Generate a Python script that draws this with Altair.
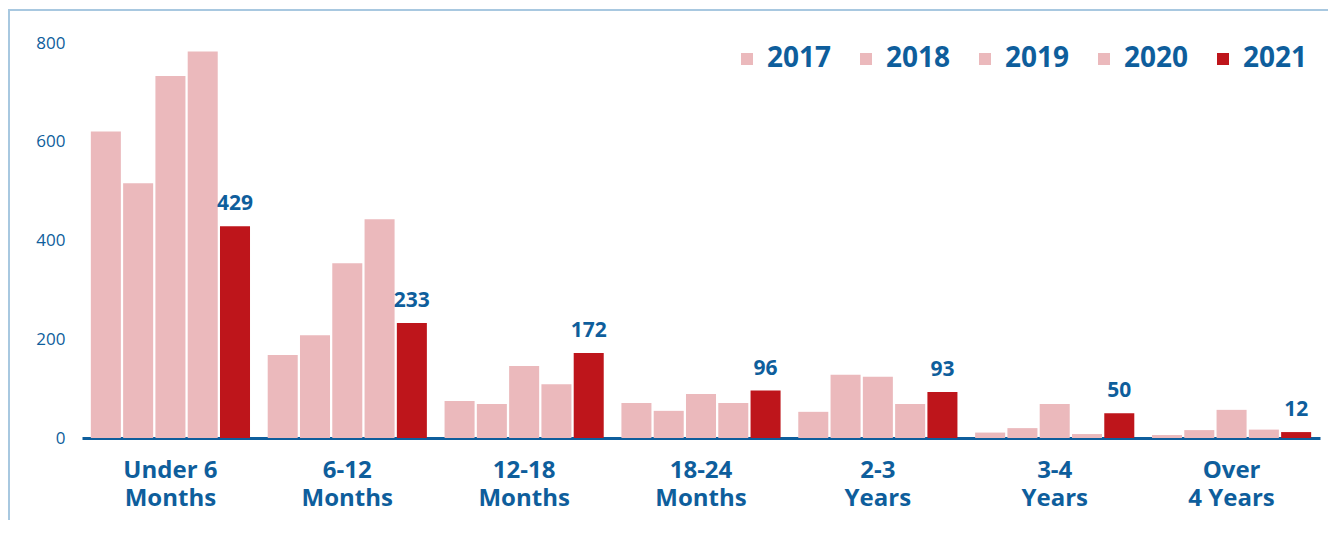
import altair as alt
import pandas as pd

categories = ["Under 6 Months", "6-12 Months", "12-18 Months", "18-24 Months",
              "2-3 Years", "3-4 Years", "Over 4 Years"]
label_line1 = ["Under 6", "6-12", "12-18", "18-24", "2-3", "3-4", "Over"]
label_line2 = ["Months", "Months", "Months", "Months", "Years", "Years", "4 Years"]
years = ["2017", "2018", "2019", "2020", "2021"]

v2017 = [621, 168, 75, 71, 53, 11, 6]
v2018 = [516, 208, 69, 55, 128, 20, 16]
v2019 = [733, 354, 146, 89, 124, 69, 57]
v2020 = [783, 443, 109, 71, 69, 8, 17]
v2021 = [429, 233, 172, 96, 93, 50, 12]

series = {"2017": v2017, "2018": v2018, "2019": v2019, "2020": v2020, "2021": v2021}
rows = []
for y in years:
    for c, v in zip(categories, series[y]):
        rows.append({"category": c, "year": y, "value": v})
df = pd.DataFrame(rows)

BLUE = "#0E5E9C"
PINK = "#EBB9BC"
RED = "#BE151B"
FRAME = "#A8C8E0"
FONT = "Open Sans"

label_expr = " : ".join(
    [f"datum.label == '{c}' ? ['{a}', '{b}']" for c, a, b in zip(categories, label_line1, label_line2)]
) + " : datum.label"

x_enc = alt.X("category:N", sort=categories,
              scale=alt.Scale(domain=categories, paddingInner=0.1, paddingOuter=0.05),
              axis=alt.Axis(title=None, labelAngle=0, labelExpr=label_expr,
                            labelFont=FONT, labelFontSize=24, labelFontWeight="bold",
                            labelColor=BLUE, labelLineHeight=28, labelPadding=20,
                            labelBaseline="top", ticks=False, domain=True,
                            domainColor=BLUE, domainWidth=3))
xoff_enc = alt.XOffset("year:N", scale=alt.Scale(domain=years, paddingInner=0.07))
y_enc = alt.Y("value:Q", scale=alt.Scale(domain=[0, 800], nice=False),
              axis=alt.Axis(title=None, values=[0, 200, 400, 600, 800], grid=False,
                            domain=False, ticks=False, labelFont=FONT, labelFontSize=17,
                            labelColor=BLUE, labelPadding=17))

bars = alt.Chart(df).mark_bar().encode(
    x=x_enc, xOffset=xoff_enc, y=y_enc,
    color=alt.Color("year:N", scale=alt.Scale(domain=years, range=[PINK, PINK, PINK, PINK, RED]),
                    legend=alt.Legend(title=None, orient="none", direction="horizontal",
                                      legendX=651, legendY=2, symbolType="square",
                                      symbolSize=144, symbolStrokeWidth=0,
                                      labelFont=FONT, labelFontSize=28, labelFontWeight="bold",
                                      labelColor=BLUE, labelOffset=6, columnPadding=20,
                                      labelLimit=200)),
)

labels = alt.Chart(df).transform_filter(alt.datum.year == "2021").mark_text(
    baseline="bottom", dy=-12, font=FONT, fontSize=21, fontWeight="bold", color=BLUE
).encode(x=x_enc, xOffset=xoff_enc, y=y_enc, text=alt.Text("value:Q"))

one = pd.DataFrame({"k": [0]})
frame_top = alt.Chart(one).mark_rule(color=FRAME, strokeWidth=2).encode(
    x=alt.value(-74), x2=alt.value(1250), y=alt.value(-33))
frame_left = alt.Chart(one).mark_rule(color=FRAME, strokeWidth=2).encode(
    x=alt.value(-73), y=alt.value(-34), y2=alt.value(480))

chart = alt.layer(frame_top, frame_left, bars, labels).properties(
    width=1238, height=395,
    autosize=alt.AutoSizeParams(type="none"),
    padding={"left": 74, "top": 35, "right": 8, "bottom": 82},
).configure(background="white").configure_view(stroke=None)

chart.save("out.html", embed_options={"renderer": "svg", "actions": False})
